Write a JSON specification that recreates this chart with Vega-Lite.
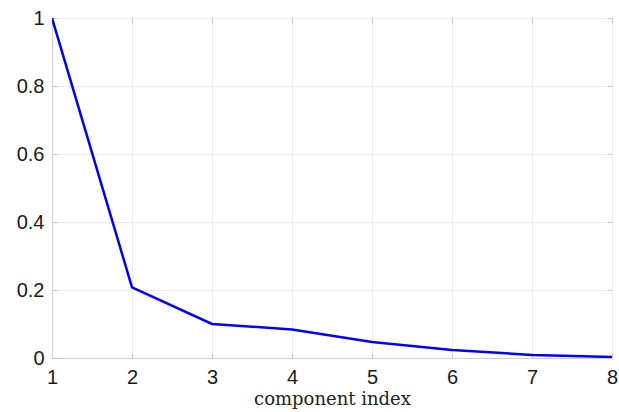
{
  "$schema": "https://vega.github.io/schema/vega-lite/v6.json",
  "autosize": "none",
  "width": 560,
  "height": 340,
  "padding": {"left": 52, "top": 18, "right": 7, "bottom": 54},
  "background": "white",
  "config": {
    "view": {"stroke": "#d0d0d0", "strokeWidth": 1},
    "axis": {
      "gridColor": "#ececec",
      "gridWidth": 1,
      "domainColor": "#cfcfcf",
      "tickColor": "#c4c4c4",
      "tickSize": -5,
      "labelFont": "Liberation Sans",
      "labelFontSize": 20,
      "labelColor": "#1a1a1a",
      "titleFont": "DejaVu Serif",
      "titleFontSize": 18,
      "titleFontWeight": "normal",
      "titleColor": "#222222"
    }
  },
  "data": {
    "values": [
      {"index": 1, "value": 1.0},
      {"index": 2, "value": 0.208},
      {"index": 3, "value": 0.1},
      {"index": 4, "value": 0.084},
      {"index": 5, "value": 0.047},
      {"index": 6, "value": 0.0235},
      {"index": 7, "value": 0.009},
      {"index": 8, "value": 0.003}
    ]
  },
  "resolve": {"axis": {"x": "independent", "y": "independent"}},
  "layer": [
    {
      "mark": {"type": "line", "color": "#0000ff", "strokeWidth": 2.5, "clip": true},
      "encoding": {
        "x": {
          "field": "index",
          "type": "quantitative",
          "scale": {"domain": [1, 8], "nice": false, "zero": false},
          "axis": {"values": [1, 2, 3, 4, 5, 6, 7, 8], "title": "component index", "labelPadding": 14, "titlePadding": 3, "labelFlush": false, "format": "d"}
        },
        "y": {
          "field": "value",
          "type": "quantitative",
          "scale": {"domain": [0, 1], "nice": false},
          "axis": {"values": [0, 0.2, 0.4, 0.6, 0.8, 1], "title": null, "labelPadding": 13, "labelFlush": false, "format": "~g"}
        }
      }
    },
    {
      "mark": {"type": "line", "opacity": 0},
      "encoding": {
        "x": {
          "field": "index",
          "type": "quantitative",
          "scale": {"domain": [1, 8], "nice": false, "zero": false},
          "axis": {"orient": "top", "values": [1, 2, 3, 4, 5, 6, 7, 8], "title": null, "labels": false, "grid": false, "domain": false}
        },
        "y": {
          "field": "value",
          "type": "quantitative",
          "scale": {"domain": [0, 1], "nice": false},
          "axis": {"orient": "right", "values": [0, 0.2, 0.4, 0.6, 0.8, 1], "title": null, "labels": false, "grid": false, "domain": false}
        }
      }
    }
  ]
}
